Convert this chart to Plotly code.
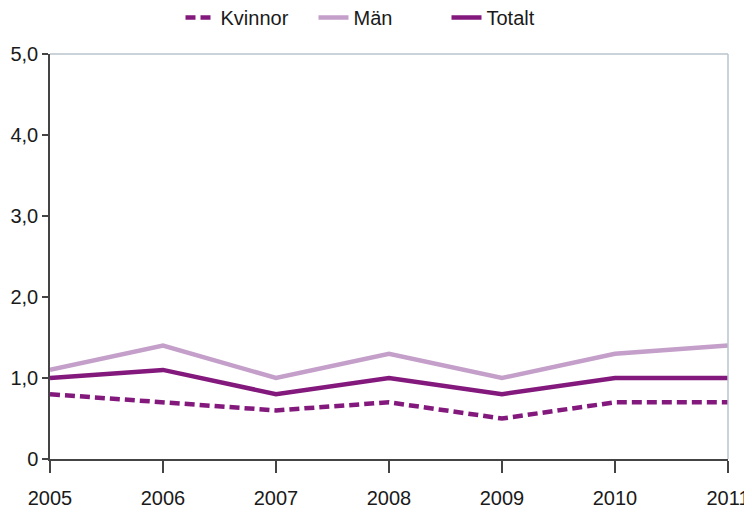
import plotly.graph_objects as go

years = [2005, 2006, 2007, 2008, 2009, 2010, 2011]
kvinnor = [0.8, 0.7, 0.6, 0.7, 0.5, 0.7, 0.7]
man = [1.1, 1.4, 1.0, 1.3, 1.0, 1.3, 1.4]
totalt = [1.0, 1.1, 0.8, 1.0, 0.8, 1.0, 1.0]
y_tickvals = [0, 1, 2, 3, 4, 5]
y_ticktext = ["0", "1,0", "2,0", "3,0", "4,0", "5,0"]

dark = "#84197d"
light = "#c49fc9"

fig = go.Figure()
fig.add_trace(go.Scatter(x=years, y=kvinnor, name="Kvinnor", mode="lines",
                         line=dict(color=dark, width=4.5, dash="10px,5px")))
fig.add_trace(go.Scatter(x=years, y=man, name="Män", mode="lines",
                         line=dict(color=light, width=4.5)))
fig.add_trace(go.Scatter(x=years, y=totalt, name="Totalt", mode="lines",
                         line=dict(color=dark, width=4.5)))

# page body has an 8px default margin, so the figure is sized to compensate
fig.update_layout(
    width=744, height=507,
    margin=dict(l=42, r=24, t=46, b=56, autoexpand=False),
    paper_bgcolor="white", plot_bgcolor="white",
    font=dict(family="Liberation Sans, Arial, sans-serif", size=20, color="#1a1a1a"),
    showlegend=True,
    legend=dict(orientation="h", x=0.5, xanchor="center", xref="container",
                y=1.138, yanchor="top", yref="paper",
                font=dict(size=20), tracegroupgap=0,
                entrywidth=88, entrywidthmode="pixels"),
    xaxis=dict(range=[2005, 2011], tickvals=years, ticks="outside", ticklen=12,
               tickcolor="#444", tickwidth=1.5, showgrid=False, zeroline=False,
               showline=True, linecolor="#444", linewidth=1.5,
               ticklabelstandoff=8, automargin=False),
    yaxis=dict(range=[0, 5], tickvals=y_tickvals, ticktext=y_ticktext,
               ticks="outside", ticklen=6, tickcolor="#444", tickwidth=1.5,
               showgrid=False, zeroline=False, showline=True, linecolor="#444",
               linewidth=1.5, automargin=False),
    shapes=[
        dict(type="line", xref="paper", yref="paper", x0=0, x1=1, y0=1, y1=1,
             line=dict(color="#b9c5cd", width=1.5)),
        dict(type="line", xref="paper", yref="paper", x0=1, x1=1, y0=0, y1=1,
             line=dict(color="#b9c5cd", width=1.5)),
    ],
)

fig.write_html("out.html")
